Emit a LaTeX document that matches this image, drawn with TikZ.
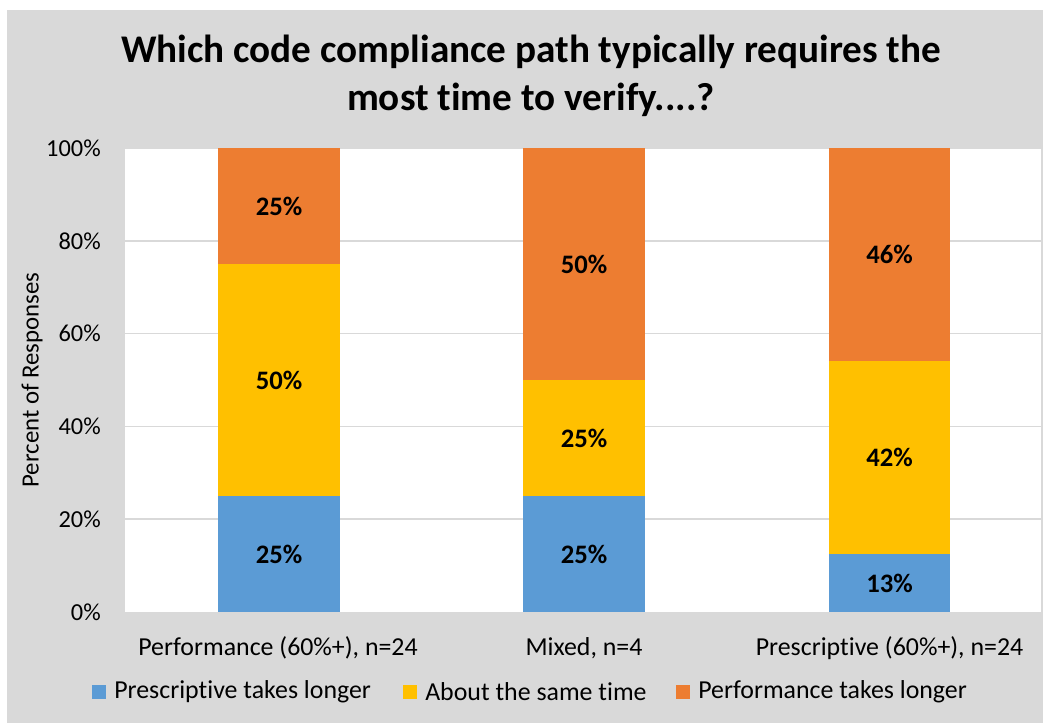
\documentclass[tikz,border=0pt]{standalone}
\usepackage{fontspec}
\setmainfont{Carlito}[Ligatures=NoCommon]
\definecolor{chartgray}{HTML}{D9D9D9}
\definecolor{presblue}{HTML}{5B9BD5}
\definecolor{sameyellow}{HTML}{FFC000}
\definecolor{perforange}{HTML}{ED7D31}
\begin{document}
\begin{tikzpicture}[x=0.75pt,y=-0.75pt,
  gridline/.style={draw=chartgray,line width=1.1pt},
  ticklabel/.style={anchor=east,inner sep=0pt,font=\fontsize{18.3}{21}\selectfont},
  barlabel/.style={inner sep=0pt,font=\bfseries\fontsize{20}{23}\selectfont},
  catlabel/.style={inner sep=0pt,font=\fontsize{19.4}{22}\selectfont},
  keybox/.style={minimum size=10pt,inner sep=0pt},
  keylabel/.style={anchor=west,inner sep=0pt,font=\fontsize{19.4}{22}\selectfont}]
 \useasboundingbox (0,0) rectangle (1043,723);
 \fill[chartgray](7,10) rectangle (1043,723);
 \fill[white](125,148) rectangle (1041,612);
 % gridlines
 \draw[gridline](125,148)--(1041,148);
 \draw[gridline](125,240.8)--(1041,240.8);
 \draw[gridline](125,333.6)--(1041,333.6);
 \draw[gridline](125,426.4)--(1041,426.4);
 \draw[gridline](125,519.2)--(1041,519.2);
 % bars
 \fill[presblue](218,612) rectangle (340,496);
 \fill[sameyellow](218,496) rectangle (340,264);
 \fill[perforange](218,264) rectangle (340,148);
 \fill[presblue](523,612) rectangle (645,496);
 \fill[sameyellow](523,496) rectangle (645,380);
 \fill[perforange](523,380) rectangle (645,148);
 \fill[presblue](829,612) rectangle (950,554);
 \fill[sameyellow](829,554) rectangle (950,360.6);
 \fill[perforange](829,360.6) rectangle (950,148);
 % data labels
 \node[barlabel] (perfblue) at (279,554) {25\%};
 \node[barlabel] (perfyellow) at (279,380) {50\%};
 \node[barlabel] (perforange) at (279,206) {25\%};
 \node[barlabel] (mixblue) at (584,554) {25\%};
 \node[barlabel] (mixyellow) at (584,438) {25\%};
 \node[barlabel] (mixorange) at (584,264) {50\%};
 \node[barlabel] (presblue) at (889.5,583) {13\%};
 \node[barlabel] (presyellow) at (889.5,457.3) {42\%};
 \node[barlabel] (presorange) at (889.5,254.3) {46\%};
 % axis
 \node[ticklabel] (t0) at (101,612) {0\%};
 \node[ticklabel] (t20) at (101,519.2) {20\%};
 \node[ticklabel] (t40) at (101,426.4) {40\%};
 \node[ticklabel] (t60) at (101,333.6) {60\%};
 \node[ticklabel] (t80) at (101,240.8) {80\%};
 \node[ticklabel] (t100) at (101,148) {100\%};
 \node[rotate=90,inner sep=0pt,font=\fontsize{18.6}{21}\selectfont] (ytitle) at (32,380) {Percent of Responses};
 \node[catlabel] (catperf) at (278,648) {Performance (60\%+), n=24};
 \node[catlabel] (catmix) at (584,648) {Mixed, n=4};
 \node[catlabel] (catpres) at (889.5,648) {Prescriptive (60\%+), n=24};
 % title
 \node[align=center,font=\bfseries\fontsize{29.4}{36}\selectfont] (title) at (531,76)
  {Which code compliance path typically requires the\\most time to verify....?};
 % legend
 \node[keybox,fill=presblue] (keyblue) at (99,692) {};
 \node[keylabel] (keybluetext) at (114,692) {Prescriptive takes longer};
 \node[keybox,fill=sameyellow] (keyyellow) at (410,692) {};
 \node[keylabel] (keyyellowtext) at (425,692) {About the same time};
 \node[keybox,fill=perforange] (keyorange) at (683,692) {};
 \node[keylabel] (keyorangetext) at (698,692) {Performance takes longer};
\end{tikzpicture}
\end{document}
